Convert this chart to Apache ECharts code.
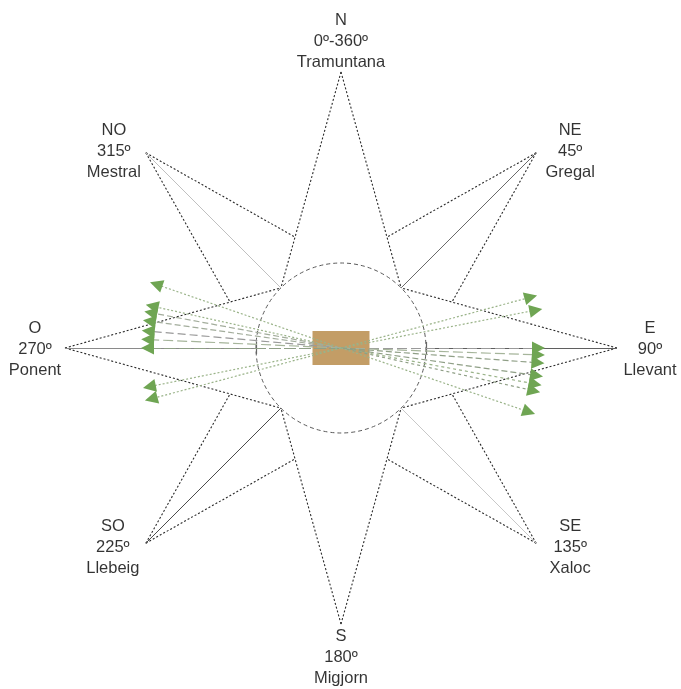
<!DOCTYPE html>
<html><head><meta charset="utf-8">
<script src="https://cdn.jsdelivr.net/npm/echarts@6/dist/echarts.min.js"></script>
<style>html,body{margin:0;padding:0;background:#fff}#c{width:681px;height:689px}</style>
</head><body><div id="c"></div>
<script>
// ---- Compass rose directions (azimuth in degrees, clockwise from north) ----
const directionAngles = [0, 45, 90, 135, 180, 225, 270, 315];
const directionCodes = ['N', 'NE', 'E', 'SE', 'S', 'SO', 'O', 'NO'];
const directionDegrees = ['0º-360º', '45º', '90º', '135º', '180º', '225º', '270º', '315º'];
const directionNames = ['Tramuntana', 'Gregal', 'Llevant', 'Xaloc', 'Migjorn', 'Llebeig', 'Ponent', 'Mestral'];

// ---- Wind arrows: azimuth (deg) and length (rose units) ----
const arrowAzimuths = [289, 282.5, 280.5, 278, 275, 272.5, 270, 258.6, 255, 75, 79, 90, 92, 94.3, 98, 100.5, 102.5, 108.8];
const arrowLengths  = [202, 200, 200, 200, 200, 200, 200, 202, 203, 203, 205, 204, 204, 204, 204, 204, 204, 205];

// ---- Rose geometry (rose units) ----
const roseRadius = 276;
const innerRadius = 85;

// ---- styles (kept apart from data) ----
const arrowDash = [[2,2],[2,2],[6,3],[6,3],[8,4],[10,4],[12,3],[2,2],[2,2],
                   [2,2],[2,2],[10,4],[10,4],[6,3],[6,3],[3,3],[3,3],[2,2]];
const arrowShaftColor = ['#9ab389','#9ab389','#a3ad9c','#a3ad9c','#9a9a9a','#a6b59b','#8f9f86','#9ab389','#9ab389',
                         '#9ab389','#9ab389','#9a9a9a','#a6b59b','#8f9f86','#8f9f86','#9ab389','#8f9f86','#9ab389'];
const diagCenterColor = {45: '#6a6a6a', 135: '#c8c8c8', 225: '#4a4a4a', 315: '#c0c0c0'};
const labelOffsets = {0:[0,-31], 45:[34,-1], 90:[33,1], 135:[34,4], 180:[0,33], 225:[-33,4], 270:[-30,1], 315:[-32,-1]};

function P(r, az) {
  const a = az * Math.PI / 180;
  return [r * Math.sin(a), r * Math.cos(a)];
}
// intersection of ray from origin at azimuth az with segment p1-p2
function rayHit(az, p1, p2) {
  const d = P(1, az);
  const ex = p2[0] - p1[0], ey = p2[1] - p1[1];
  const det = d[0] * (-ey) - (-ex) * d[1];
  const s = (p1[0] * (-ey) - (-ex) * p1[1]) / det;
  return [s * d[0], s * d[1]];
}

const mainAngles = directionAngles.filter(a => a % 90 === 0);
const diagAngles = directionAngles.filter(a => a % 90 !== 0);

const edgeData = [];
mainAngles.forEach(a => {
  edgeData.push({coords: [P(roseRadius, a), P(innerRadius, a - 45)]});
  edgeData.push({coords: [P(roseRadius, a), P(innerRadius, a + 45)]});
});
diagAngles.forEach(a => {
  const tip = P(roseRadius, a);
  const s1 = rayHit(a - 22.5, P(roseRadius, a - 45), P(innerRadius, a));
  const s2 = rayHit(a + 22.5, P(roseRadius, a + 45), P(innerRadius, a));
  edgeData.push({coords: [tip, s1]});
  edgeData.push({coords: [tip, s2]});
});

const diagCenterData = diagAngles.map(a => ({
  coords: [P(roseRadius, a), P(innerRadius, a)],
  lineStyle: {color: diagCenterColor[a]}
}));

const ewLines = [];
[90, 270].forEach(a => {
  ewLines.push({coords: [P(innerRadius, a), P(roseRadius, a)], lineStyle: {color: a === 90 ? '#5f5f5f' : '#8a8a8a'}});
  const c = P(innerRadius, a);
  ewLines.push({coords: [[c[0], c[1] - 6], [c[0], c[1] + 6]], lineStyle: {color: '#666'}});
});

const shaftData = arrowAzimuths.map((az, i) => ({
  coords: [[0, 0], P(arrowLengths[i] - 8, az)],
  lineStyle: {type: arrowDash[i], color: arrowShaftColor[i]}
}));
const headData = arrowAzimuths.map((az, i) => ({
  coords: [P(arrowLengths[i] - 7.5, az), P(arrowLengths[i] - 6.5, az)]
}));

const labelData = directionAngles.map((a, i) => ({
  value: P(roseRadius, a),
  label: {offset: labelOffsets[a]}
}));

const centerBox = [[-28.5, 17, 57, 34]];

const chart = echarts.init(document.getElementById('c'), null, {renderer: 'canvas'});
chart.setOption({
  animation: false,
  backgroundColor: '#ffffff',
  grid: {left: 41, top: 48, width: 600, height: 600},
  xAxis: {type: 'value', min: -300, max: 300, show: false},
  yAxis: {type: 'value', min: -300, max: 300, show: false},
  series: [
    {
      type: 'custom', z: 1, silent: true,
      data: [[0, 0, innerRadius]],
      encode: {x: 0, y: 1},
      renderItem: (params, api) => {
        const c = api.coord([api.value(0), api.value(1)]);
        const r = api.size([api.value(2), 0])[0];
        return {type: 'circle', shape: {cx: c[0], cy: c[1], r: r},
          style: {fill: 'none', stroke: '#5a5a5a', lineWidth: 1, lineDash: [4, 3]}};
      }
    },
    {
      type: 'lines', coordinateSystem: 'cartesian2d', z: 2, silent: true,
      lineStyle: {color: '#2a2a2a', width: 1.1, type: [2, 2], opacity: 1},
      data: edgeData
    },
    {
      type: 'lines', coordinateSystem: 'cartesian2d', z: 2, silent: true,
      lineStyle: {width: 1, type: 'solid', opacity: 1},
      data: diagCenterData
    },
    {
      type: 'lines', coordinateSystem: 'cartesian2d', z: 2, silent: true,
      lineStyle: {width: 1.2, type: 'solid', opacity: 1},
      data: ewLines
    },
    {
      type: 'custom', z: 3, silent: true,
      data: centerBox,
      encode: {x: 0, y: 1},
      renderItem: (params, api) => {
        const c = api.coord([api.value(0), api.value(1)]);
        const s = api.size([api.value(2), api.value(3)]);
        return {type: 'rect', shape: {x: c[0], y: c[1], width: s[0], height: s[1]},
          style: {fill: '#c39d66'}};
      }
    },
    {
      type: 'lines', coordinateSystem: 'cartesian2d', z: 4, silent: true,
      lineStyle: {width: 1.2, opacity: 1},
      data: shaftData
    },
    {
      type: 'lines', coordinateSystem: 'cartesian2d', z: 5, silent: true,
      symbol: ['none', 'triangle'], symbolSize: [11, 13],
      lineStyle: {color: '#6fa553', width: 1, opacity: 1},
      data: headData
    },
    {
      type: 'scatter', z: 6, silent: true,
      symbolSize: 0,
      data: labelData,
      label: {
        show: true, position: 'inside', align: 'center', verticalAlign: 'middle',
        color: '#000', fontSize: 16.5, lineHeight: 21,
        fontFamily: 'Liberation Sans, Arial, sans-serif',
        formatter: p => directionCodes[p.dataIndex] + '\n' + directionDegrees[p.dataIndex] + '\n' + directionNames[p.dataIndex]
      }
    }
  ]
});
</script>
</body></html>
